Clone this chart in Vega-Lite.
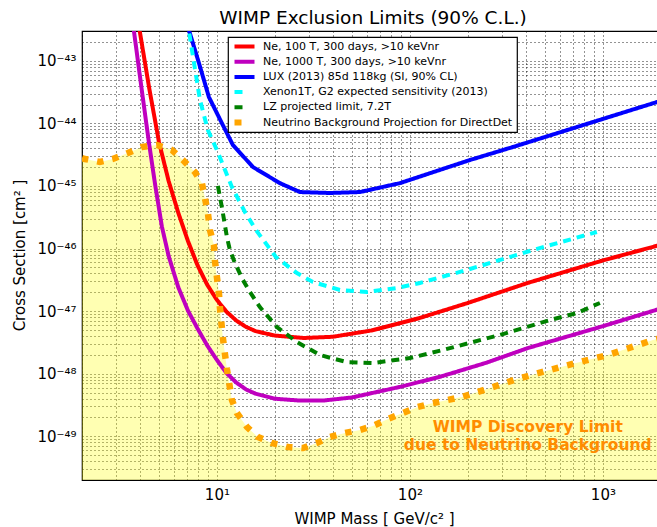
{
  "$schema": "https://vega.github.io/schema/vega-lite/v6.json",
  "width": 576,
  "height": 449,
  "autosize": "none",
  "padding": {"left": 82, "top": 31, "right": 0, "bottom": 47},
  "background": "white",
  "title": {"text": "WIMP Exclusion Limits (90% C.L.)", "fontSize": 18.5, "fontWeight": "normal", "font": "DejaVu Sans", "frame": "group", "anchor": "middle", "baseline": "alphabetic", "offset": 6, "dy": 24, "dx": 3, "color": "black"},
  "config": {
    "font": "DejaVu Sans",
    "view": {"stroke": "black", "strokeWidth": 1.2},
    "legend": {"orient": "none", "legendX": 146, "legendY": 6, "strokeColor": "black", "fillColor": "white", "padding": 4, "labelFont": "DejaVu Sans", "labelFontSize": 11, "labelColor": "black", "symbolType": "M-2.5,0L2.5,0", "symbolSize": 64, "symbolOffset": 7, "clipHeight": 11, "rowPadding": 3.2, "labelOffset": 13, "labelLimit": 400, "cornerRadius": 0, "strokeWidth": 1.2}
  },
  "datasets": {
    "curves": [
      {"series": "Ne, 100 T, 300 days, >10 keVnr", "m": 3.89, "s": 4.6e-43},
      {"series": "Ne, 100 T, 300 days, >10 keVnr", "m": 3.98, "s": 3.02e-43},
      {"series": "Ne, 100 T, 300 days, >10 keVnr", "m": 4.467, "s": 3.55e-44},
      {"series": "Ne, 100 T, 300 days, >10 keVnr", "m": 5.012, "s": 5.01e-45},
      {"series": "Ne, 100 T, 300 days, >10 keVnr", "m": 5.623, "s": 1.2e-45},
      {"series": "Ne, 100 T, 300 days, >10 keVnr", "m": 6.31, "s": 3.72e-46},
      {"series": "Ne, 100 T, 300 days, >10 keVnr", "m": 7.079, "s": 1.32e-46},
      {"series": "Ne, 100 T, 300 days, >10 keVnr", "m": 7.943, "s": 5.37e-47},
      {"series": "Ne, 100 T, 300 days, >10 keVnr", "m": 8.913, "s": 2.63e-47},
      {"series": "Ne, 100 T, 300 days, >10 keVnr", "m": 10, "s": 1.51e-47},
      {"series": "Ne, 100 T, 300 days, >10 keVnr", "m": 11.22, "s": 9.77e-48},
      {"series": "Ne, 100 T, 300 days, >10 keVnr", "m": 12.59, "s": 7.08e-48},
      {"series": "Ne, 100 T, 300 days, >10 keVnr", "m": 14.13, "s": 5.62e-48},
      {"series": "Ne, 100 T, 300 days, >10 keVnr", "m": 15.85, "s": 4.79e-48},
      {"series": "Ne, 100 T, 300 days, >10 keVnr", "m": 19.95, "s": 4.07e-48},
      {"series": "Ne, 100 T, 300 days, >10 keVnr", "m": 28.18, "s": 3.72e-48},
      {"series": "Ne, 100 T, 300 days, >10 keVnr", "m": 39.81, "s": 3.89e-48},
      {"series": "Ne, 100 T, 300 days, >10 keVnr", "m": 63.1, "s": 4.9e-48},
      {"series": "Ne, 100 T, 300 days, >10 keVnr", "m": 112.2, "s": 7.76e-48},
      {"series": "Ne, 100 T, 300 days, >10 keVnr", "m": 199.5, "s": 1.35e-47},
      {"series": "Ne, 100 T, 300 days, >10 keVnr", "m": 407.4, "s": 2.82e-47},
      {"series": "Ne, 100 T, 300 days, >10 keVnr", "m": 1000, "s": 6.46e-47},
      {"series": "Ne, 100 T, 300 days, >10 keVnr", "m": 1995, "s": 1.15e-46},

      {"series": "Ne, 1000 T, 300 days, >10 keVnr", "m": 3.63, "s": 4.47e-43},
      {"series": "Ne, 1000 T, 300 days, >10 keVnr", "m": 3.715, "s": 3.02e-43},
      {"series": "Ne, 1000 T, 300 days, >10 keVnr", "m": 4.074, "s": 3.55e-44},
      {"series": "Ne, 1000 T, 300 days, >10 keVnr", "m": 4.446, "s": 4.9e-45},
      {"series": "Ne, 1000 T, 300 days, >10 keVnr", "m": 4.786, "s": 1.05e-45},
      {"series": "Ne, 1000 T, 300 days, >10 keVnr", "m": 5.188, "s": 2.24e-46},
      {"series": "Ne, 1000 T, 300 days, >10 keVnr", "m": 5.623, "s": 7.59e-47},
      {"series": "Ne, 1000 T, 300 days, >10 keVnr", "m": 6.31, "s": 2.4e-47},
      {"series": "Ne, 1000 T, 300 days, >10 keVnr", "m": 7.079, "s": 1.02e-47},
      {"series": "Ne, 1000 T, 300 days, >10 keVnr", "m": 7.943, "s": 5.25e-48},
      {"series": "Ne, 1000 T, 300 days, >10 keVnr", "m": 8.913, "s": 2.82e-48},
      {"series": "Ne, 1000 T, 300 days, >10 keVnr", "m": 10, "s": 1.66e-48},
      {"series": "Ne, 1000 T, 300 days, >10 keVnr", "m": 11.22, "s": 1.02e-48},
      {"series": "Ne, 1000 T, 300 days, >10 keVnr", "m": 12.59, "s": 7.24e-49},
      {"series": "Ne, 1000 T, 300 days, >10 keVnr", "m": 14.13, "s": 5.62e-49},
      {"series": "Ne, 1000 T, 300 days, >10 keVnr", "m": 15.85, "s": 4.79e-49},
      {"series": "Ne, 1000 T, 300 days, >10 keVnr", "m": 19.95, "s": 3.98e-49},
      {"series": "Ne, 1000 T, 300 days, >10 keVnr", "m": 26.92, "s": 3.72e-49},
      {"series": "Ne, 1000 T, 300 days, >10 keVnr", "m": 35.48, "s": 3.72e-49},
      {"series": "Ne, 1000 T, 300 days, >10 keVnr", "m": 50.12, "s": 4.17e-49},
      {"series": "Ne, 1000 T, 300 days, >10 keVnr", "m": 89.13, "s": 6.17e-49},
      {"series": "Ne, 1000 T, 300 days, >10 keVnr", "m": 142.9, "s": 8.91e-49},
      {"series": "Ne, 1000 T, 300 days, >10 keVnr", "m": 251.2, "s": 1.51e-48},
      {"series": "Ne, 1000 T, 300 days, >10 keVnr", "m": 408.3, "s": 2.57e-48},
      {"series": "Ne, 1000 T, 300 days, >10 keVnr", "m": 1000, "s": 5.75e-48},
      {"series": "Ne, 1000 T, 300 days, >10 keVnr", "m": 1995, "s": 1.1e-47},

      {"series": "LUX (2013) 85d 118kg (SI, 90% CL)", "m": 6.9, "s": 4.5e-43},
      {"series": "LUX (2013) 85d 118kg (SI, 90% CL)", "m": 7.16, "s": 3.11e-43},
      {"series": "LUX (2013) 85d 118kg (SI, 90% CL)", "m": 8.07, "s": 9.24e-44},
      {"series": "LUX (2013) 85d 118kg (SI, 90% CL)", "m": 9.09, "s": 2.64e-44},
      {"series": "LUX (2013) 85d 118kg (SI, 90% CL)", "m": 10.61, "s": 1.01e-44},
      {"series": "LUX (2013) 85d 118kg (SI, 90% CL)", "m": 12.1, "s": 4.52e-45},
      {"series": "LUX (2013) 85d 118kg (SI, 90% CL)", "m": 15.37, "s": 2.01e-45},
      {"series": "LUX (2013) 85d 118kg (SI, 90% CL)", "m": 21.21, "s": 1.11e-45},
      {"series": "LUX (2013) 85d 118kg (SI, 90% CL)", "m": 26.92, "s": 8.0e-46},
      {"series": "LUX (2013) 85d 118kg (SI, 90% CL)", "m": 38.5, "s": 7.73e-46},
      {"series": "LUX (2013) 85d 118kg (SI, 90% CL)", "m": 55.1, "s": 8.0e-46},
      {"series": "LUX (2013) 85d 118kg (SI, 90% CL)", "m": 88.7, "s": 1.11e-45},
      {"series": "LUX (2013) 85d 118kg (SI, 90% CL)", "m": 204.6, "s": 2.6e-45},
      {"series": "LUX (2013) 85d 118kg (SI, 90% CL)", "m": 342, "s": 4.2e-45},
      {"series": "LUX (2013) 85d 118kg (SI, 90% CL)", "m": 2000, "s": 2.3e-44},

      {"series": "Xenon1T, G2 expected sensitivity (2013)", "m": 6.91, "s": 4.5e-43},
      {"series": "Xenon1T, G2 expected sensitivity (2013)", "m": 7.16, "s": 3.0e-43},
      {"series": "Xenon1T, G2 expected sensitivity (2013)", "m": 8.17, "s": 2.37e-44},
      {"series": "Xenon1T, G2 expected sensitivity (2013)", "m": 8.98, "s": 7.85e-45},
      {"series": "Xenon1T, G2 expected sensitivity (2013)", "m": 10.0, "s": 3.76e-45},
      {"series": "Xenon1T, G2 expected sensitivity (2013)", "m": 11.96, "s": 9.64e-46},
      {"series": "Xenon1T, G2 expected sensitivity (2013)", "m": 13.97, "s": 3.84e-46},
      {"series": "Xenon1T, G2 expected sensitivity (2013)", "m": 15.93, "s": 1.98e-46},
      {"series": "Xenon1T, G2 expected sensitivity (2013)", "m": 20.22, "s": 7.33e-47},
      {"series": "Xenon1T, G2 expected sensitivity (2013)", "m": 25.97, "s": 4.06e-47},
      {"series": "Xenon1T, G2 expected sensitivity (2013)", "m": 31.43, "s": 2.92e-47},
      {"series": "Xenon1T, G2 expected sensitivity (2013)", "m": 43.39, "s": 2.18e-47},
      {"series": "Xenon1T, G2 expected sensitivity (2013)", "m": 59.89, "s": 2.02e-47},
      {"series": "Xenon1T, G2 expected sensitivity (2013)", "m": 85.6, "s": 2.34e-47},
      {"series": "Xenon1T, G2 expected sensitivity (2013)", "m": 112.7, "s": 2.82e-47},
      {"series": "Xenon1T, G2 expected sensitivity (2013)", "m": 197.4, "s": 4.55e-47},
      {"series": "Xenon1T, G2 expected sensitivity (2013)", "m": 433.8, "s": 9.48e-47},
      {"series": "Xenon1T, G2 expected sensitivity (2013)", "m": 930.9, "s": 1.84e-46},

      {"series": "LZ projected limit, 7.2T", "m": 10.12, "s": 1.0e-45},
      {"series": "LZ projected limit, 7.2T", "m": 10.61, "s": 4.61e-46},
      {"series": "LZ projected limit, 7.2T", "m": 11.27, "s": 1.53e-46},
      {"series": "LZ projected limit, 7.2T", "m": 11.68, "s": 9.48e-47},
      {"series": "LZ projected limit, 7.2T", "m": 12.4, "s": 5.87e-47},
      {"series": "LZ projected limit, 7.2T", "m": 13.64, "s": 3.14e-47},
      {"series": "LZ projected limit, 7.2T", "m": 14.83, "s": 2.02e-47},
      {"series": "LZ projected limit, 7.2T", "m": 16.7, "s": 1.16e-47},
      {"series": "LZ projected limit, 7.2T", "m": 20.46, "s": 5.57e-48},
      {"series": "LZ projected limit, 7.2T", "m": 25.97, "s": 3.21e-48},
      {"series": "LZ projected limit, 7.2T", "m": 34.18, "s": 1.99e-48},
      {"series": "LZ projected limit, 7.2T", "m": 47.17, "s": 1.53e-48},
      {"series": "LZ projected limit, 7.2T", "m": 64.33, "s": 1.48e-48},
      {"series": "LZ projected limit, 7.2T", "m": 100, "s": 1.78e-48},
      {"series": "LZ projected limit, 7.2T", "m": 148.3, "s": 2.39e-48},
      {"series": "LZ projected limit, 7.2T", "m": 212.1, "s": 3.21e-48},
      {"series": "LZ projected limit, 7.2T", "m": 292.7, "s": 4.16e-48},
      {"series": "LZ projected limit, 7.2T", "m": 531.4, "s": 7.21e-48},
      {"series": "LZ projected limit, 7.2T", "m": 733.5, "s": 9.33e-48},
      {"series": "LZ projected limit, 7.2T", "m": 965, "s": 1.35e-47},

      {"series": "Neutrino Background Projection for DirectDet", "m": 2.0, "s": 2.8e-45},
      {"series": "Neutrino Background Projection for DirectDet", "m": 2.07, "s": 2.7e-45},
      {"series": "Neutrino Background Projection for DirectDet", "m": 2.476, "s": 2.42e-45},
      {"series": "Neutrino Background Projection for DirectDet", "m": 2.891, "s": 2.7e-45},
      {"series": "Neutrino Background Projection for DirectDet", "m": 3.459, "s": 3.37e-45},
      {"series": "Neutrino Background Projection for DirectDet", "m": 4.087, "s": 4.2e-45},
      {"series": "Neutrino Background Projection for DirectDet", "m": 4.888, "s": 4.52e-45},
      {"series": "Neutrino Background Projection for DirectDet", "m": 5.846, "s": 3.76e-45},
      {"series": "Neutrino Background Projection for DirectDet", "m": 6.666, "s": 2.6e-45},
      {"series": "Neutrino Background Projection for DirectDet", "m": 7.691, "s": 1.67e-45},
      {"series": "Neutrino Background Projection for DirectDet", "m": 8.36, "s": 1.11e-45},
      {"series": "Neutrino Background Projection for DirectDet", "m": 8.667, "s": 6.43e-46},
      {"series": "Neutrino Background Projection for DirectDet", "m": 8.984, "s": 3.7e-46},
      {"series": "Neutrino Background Projection for DirectDet", "m": 9.2, "s": 1.98e-46},
      {"series": "Neutrino Background Projection for DirectDet", "m": 9.65, "s": 1.14e-46},
      {"series": "Neutrino Background Projection for DirectDet", "m": 9.76, "s": 6.56e-47},
      {"series": "Neutrino Background Projection for DirectDet", "m": 10.0, "s": 3.51e-47},
      {"series": "Neutrino Background Projection for DirectDet", "m": 10.24, "s": 2.02e-47},
      {"series": "Neutrino Background Projection for DirectDet", "m": 10.36, "s": 1.16e-47},
      {"series": "Neutrino Background Projection for DirectDet", "m": 10.74, "s": 3.72e-48},
      {"series": "Neutrino Background Projection for DirectDet", "m": 11.27, "s": 1.19e-48},
      {"series": "Neutrino Background Projection for DirectDet", "m": 11.96, "s": 3.8e-49},
      {"series": "Neutrino Background Projection for DirectDet", "m": 12.69, "s": 2.36e-49},
      {"series": "Neutrino Background Projection for DirectDet", "m": 14.3, "s": 1.41e-49},
      {"series": "Neutrino Background Projection for DirectDet", "m": 16.31, "s": 9.73e-50},
      {"series": "Neutrino Background Projection for DirectDet", "m": 19.27, "s": 7.8e-50},
      {"series": "Neutrino Background Projection for DirectDet", "m": 23.33, "s": 6.73e-50},
      {"series": "Neutrino Background Projection for DirectDet", "m": 27.9, "s": 6.49e-50},
      {"series": "Neutrino Background Projection for DirectDet", "m": 32.97, "s": 7.8e-50},
      {"series": "Neutrino Background Projection for DirectDet", "m": 38.5, "s": 9.73e-50},
      {"series": "Neutrino Background Projection for DirectDet", "m": 46.05, "s": 1.13e-49},
      {"series": "Neutrino Background Projection for DirectDet", "m": 55.08, "s": 1.26e-49},
      {"series": "Neutrino Background Projection for DirectDet", "m": 64.33, "s": 1.46e-49},
      {"series": "Neutrino Background Projection for DirectDet", "m": 76.91, "s": 1.89e-49},
      {"series": "Neutrino Background Projection for DirectDet", "m": 91.99, "s": 2.36e-49},
      {"series": "Neutrino Background Projection for DirectDet", "m": 110, "s": 2.94e-49},
      {"series": "Neutrino Background Projection for DirectDet", "m": 131.6, "s": 3.4e-49},
      {"series": "Neutrino Background Projection for DirectDet", "m": 186, "s": 4.24e-49},
      {"series": "Neutrino Background Projection for DirectDet", "m": 259.8, "s": 5.9e-49},
      {"series": "Neutrino Background Projection for DirectDet", "m": 358.4, "s": 8.22e-49},
      {"series": "Neutrino Background Projection for DirectDet", "m": 531.4, "s": 1.15e-48},
      {"series": "Neutrino Background Projection for DirectDet", "m": 760, "s": 1.54e-48},
      {"series": "Neutrino Background Projection for DirectDet", "m": 1061, "s": 1.99e-48},
      {"series": "Neutrino Background Projection for DirectDet", "m": 1518, "s": 2.87e-48},
      {"series": "Neutrino Background Projection for DirectDet", "m": 1816, "s": 3.45e-48},
      {"series": "Neutrino Background Projection for DirectDet", "m": 2096, "s": 3.86e-48}
    ],
    "notes": [
      {"m": 408, "s": 1.41e-49, "t": "WIMP Discovery Limit"},
      {"m": 408, "s": 7.2e-50, "t": "due to Neutrino Background"}
    ]
  },
  "layer": [
    {
      "data": {"name": "curves"},
      "transform": [{"filter": "datum.series === 'Neutrino Background Projection for DirectDet'"}],
      "mark": {"type": "area", "color": "#ffff00", "opacity": 0.3, "clip": true},
      "encoding": {
        "x": {"field": "m", "type": "quantitative",
          "scale": {"type": "log", "domain": [2, 1930], "nice": false},
          "axis": {"values": [2,3,4,5,6,7,8,9,10,20,30,40,50,60,70,80,90,100,200,300,400,500,600,700,800,900,1000],
            "labelExpr": "abs(datum.value/pow(10,round(log(datum.value)/LN10))-1)<1e-6 ? '10' + ['⁰','¹','²','³','⁴'][round(log(datum.value)/LN10)] : ''",
            "grid": true, "gridColor": "black", "gridDash": [1, 3], "gridOpacity": 0.85, "gridWidth": 1,
            "ticks": false, "tickSize": 0, "domain": false, "labelOverlap": false, "labelFlush": false,
            "labelFont": "DejaVu Sans", "labelFontSize": 15, "labelColor": "black", "labelPadding": 7,
            "title": "WIMP Mass [ GeV/c²  ]", "titleFont": "DejaVu Sans", "titleFontSize": 15, "titleFontWeight": "normal", "titleColor": "black",
            "titleX": 292, "titleY": 43, "titleBaseline": "alphabetic", "titleAlign": "center"}},
        "y": {"field": "s", "type": "quantitative",
          "scale": {"type": "log", "domain": [2e-50, 3e-43], "nice": false},
          "axis": {"values": [2e-50,3e-50,4e-50,5e-50,6e-50,7e-50,8e-50,9e-50,1e-49,2e-49,3e-49,4e-49,5e-49,6e-49,7e-49,8e-49,9e-49,1e-48,2e-48,3e-48,4e-48,5e-48,6e-48,7e-48,8e-48,9e-48,1e-47,2e-47,3e-47,4e-47,5e-47,6e-47,7e-47,8e-47,9e-47,1e-46,2e-46,3e-46,4e-46,5e-46,6e-46,7e-46,8e-46,9e-46,1e-45,2e-45,3e-45,4e-45,5e-45,6e-45,7e-45,8e-45,9e-45,1e-44,2e-44,3e-44,4e-44,5e-44,6e-44,7e-44,8e-44,9e-44,1e-43,2e-43,3e-43],
            "labelExpr": "abs(datum.value/pow(10,round(log(datum.value)/LN10))-1)<1e-6 ? '10⁻' + ['⁰','¹','²','³','⁴','⁵','⁶','⁷','⁸','⁹'][floor(-round(log(datum.value)/LN10)/10)] + ['⁰','¹','²','³','⁴','⁵','⁶','⁷','⁸','⁹'][(-round(log(datum.value)/LN10))%10] : ''",
            "grid": true, "gridColor": "black", "gridDash": [1, 3], "gridOpacity": 0.85, "gridWidth": 1,
            "ticks": false, "tickSize": 0, "domain": false, "labelOverlap": false, "labelFlush": false,
            "labelFont": "DejaVu Sans", "labelFontSize": 15, "labelColor": "black", "labelPadding": 6,
            "title": "Cross Section [cm² ]", "titleFont": "DejaVu Sans", "titleFontSize": 15, "titleFontWeight": "normal", "titleColor": "black",
            "titleX": -63, "titleY": 224, "titleBaseline": "middle", "titleAlign": "center", "titleAngle": 270}},
        "y2": {"datum": 1e-52}
      }
    },
    {
      "data": {"name": "curves"},
      "transform": [{"filter": "indexof(['Ne, 100 T, 300 days, >10 keVnr', 'Ne, 1000 T, 300 days, >10 keVnr', 'LUX (2013) 85d 118kg (SI, 90% CL)'], datum.series) >= 0"}],
      "mark": {"type": "line", "strokeWidth": 4, "clip": true, "strokeCap": "butt"},
      "encoding": {
        "x": {"field": "m", "type": "quantitative"},
        "y": {"field": "s", "type": "quantitative"},
        "color": {"field": "series", "type": "nominal",
          "scale": {"domain": ["Ne, 100 T, 300 days, >10 keVnr", "Ne, 1000 T, 300 days, >10 keVnr", "LUX (2013) 85d 118kg (SI, 90% CL)", "Xenon1T, G2 expected sensitivity (2013)", "LZ projected limit, 7.2T", "Neutrino Background Projection for DirectDet"],
            "range": ["#ff0000", "#bf00bf", "#0000ff", "#00ffff", "#008000", "#ffa500"]},
          "legend": {"title": null, "encode": {"symbols": {"update": {"strokeWidth": {"signal": "datum.value === 'Neutrino Background Projection for DirectDet' ? 6 : 4"}}}}}},
        "strokeDash": {"field": "series", "type": "nominal",
          "scale": {"domain": ["Ne, 100 T, 300 days, >10 keVnr", "Ne, 1000 T, 300 days, >10 keVnr", "LUX (2013) 85d 118kg (SI, 90% CL)", "Xenon1T, G2 expected sensitivity (2013)", "LZ projected limit, 7.2T", "Neutrino Background Projection for DirectDet"],
            "range": [[1, 0], [1, 0], [1, 0], [8, 20], [8, 20], [7, 20]]},
          "legend": {"title": null}}
      }
    },
    {
      "data": {"name": "curves"},
      "transform": [{"filter": "datum.series === 'Xenon1T, G2 expected sensitivity (2013)'"}],
      "mark": {"type": "line", "strokeWidth": 4, "color": "#00ffff", "strokeDash": [8, 6], "clip": true, "strokeCap": "butt"},
      "encoding": {
        "x": {"field": "m", "type": "quantitative"},
        "y": {"field": "s", "type": "quantitative"}
      }
    },
    {
      "data": {"name": "curves"},
      "transform": [{"filter": "datum.series === 'LZ projected limit, 7.2T'"}],
      "mark": {"type": "line", "strokeWidth": 4, "color": "#008000", "strokeDash": [8, 6], "clip": true, "strokeCap": "butt"},
      "encoding": {
        "x": {"field": "m", "type": "quantitative"},
        "y": {"field": "s", "type": "quantitative"}
      }
    },
    {
      "data": {"name": "curves"},
      "transform": [{"filter": "datum.series === 'Neutrino Background Projection for DirectDet'"}],
      "mark": {"type": "line", "strokeWidth": 6.5, "color": "#ffa500", "strokeDash": [6.5, 9], "clip": true, "strokeCap": "butt"},
      "encoding": {
        "x": {"field": "m", "type": "quantitative"},
        "y": {"field": "s", "type": "quantitative"}
      }
    },
    {
      "data": {"name": "notes"},
      "mark": {"type": "text", "color": "#ff8c00", "font": "DejaVu Sans", "fontWeight": "bold", "fontSize": 15.5, "align": "center", "baseline": "middle"},
      "encoding": {
        "x": {"field": "m", "type": "quantitative"},
        "y": {"field": "s", "type": "quantitative"},
        "text": {"field": "t"}
      }
    }
  ]
}
